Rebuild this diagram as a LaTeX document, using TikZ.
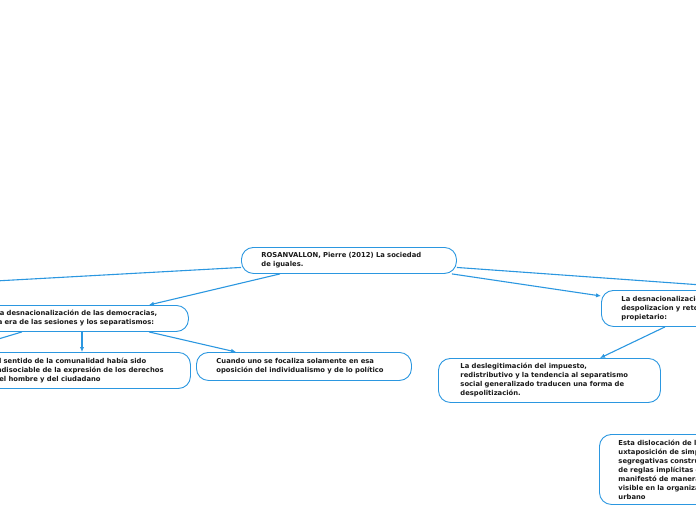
\documentclass[tikz,border=0pt]{standalone}
\usepackage{fontspec}
\setmainfont{DejaVu Sans}
\usepackage{xcolor}
\usepackage{tikz}
\usetikzlibrary{arrows.meta,positioning,calc}
\definecolor{MapBlue}{HTML}{2B97E0}
\definecolor{MapInk}{HTML}{1A1A1A}

\begin{document}
\begin{tikzpicture}[x=1pt,y=-1pt,>={Latex[length=5pt,width=4.5pt]},
    topic/.style={draw=MapBlue,line width=0.9pt,fill=white,rounded corners=12pt,
      anchor=north west,align=left,inner xsep=20pt,inner ysep=2pt,
      text=MapInk,font=\fontsize{6.8}{9}\selectfont\bfseries},
    link/.style={MapBlue,line width=1.1pt}]
  \useasboundingbox (0,0) rectangle (696,520);
  % central topic
  \node[topic,text width=175pt,minimum height=26pt] (root) at (241,247)
      {ROSANVALLON, Pierre (2012) La sociedad\\de iguales.};
  % left branch
  \node[topic,text width=173pt,minimum height=26pt] (left) at (-25,305)
      {La desnacionalización de las democracias,\\la era de las sesiones y los separatismos:};
  \node[topic,text width=176pt,minimum height=36pt] (leftA) at (-26,352)
      {El sentido de la comunalidad había sido\\indisociable de la expresión de los derechos\\del hombre y del ciudadano};
  \node[topic,text width=175pt,minimum height=28pt] (leftB) at (196,352)
      {Cuando uno se focaliza solamente en esa\\oposición del individualismo y de lo político};
  % right branch
  \node[topic,text width=175pt,minimum height=36pt] (right) at (601,290)
      {La desnacionalización,\\despolizacion y retorno al mundo\\propietario:};
  \node[topic,text width=178pt,inner xsep=22pt,minimum height=44pt] (rightA) at (438,358)
      {La deslegitimación del impuesto,\\redistributivo y la tendencia al separatismo\\social generalizado traducen una forma de\\despolitización.};
  \node[topic,text width=180pt,inner xsep=19pt,minimum height=70pt] (rightB) at (599,434)
      {Esta dislocación de la sociedad en una j\\uxtaposición de simples comunidades\\segregativas construidas a partir\\de reglas implícitas o explícitas se\\manifestó de manera particularmente\\visible en la organización del espacio\\urbano};
  % loose ends leaving the page
  \coordinate (offL) at (-5,281);
  \coordinate (offR) at (702,285);
  \coordinate (offLL) at (-5,340);
  % connectors
  \draw[link] ([yshift=-7pt]root.west) -- (offL);
  \draw[link] ([yshift=-7pt]root.east) -- (offR);
  \draw[link,->] ([xshift=39pt]root.south west) -- ([xshift=-40pt]left.north east);
  \draw[link,->] ([xshift=-5pt]root.south east) -- ([yshift=-6pt]right.north west);
  \draw[link] ([xshift=47pt]left.south west) -- (offLL);
  \draw[link,->] ([xshift=107pt]left.south west) -- ([xshift=107pt]left.south west |- leftA.north);
  \draw[link,->] ([xshift=-40pt]left.south east) -- ([xshift=40pt]leftB.north west);
  \draw[link,->] ([xshift=64pt]right.south west) -- ([xshift=162pt]rightA.north west);
\end{tikzpicture}
\end{document}
